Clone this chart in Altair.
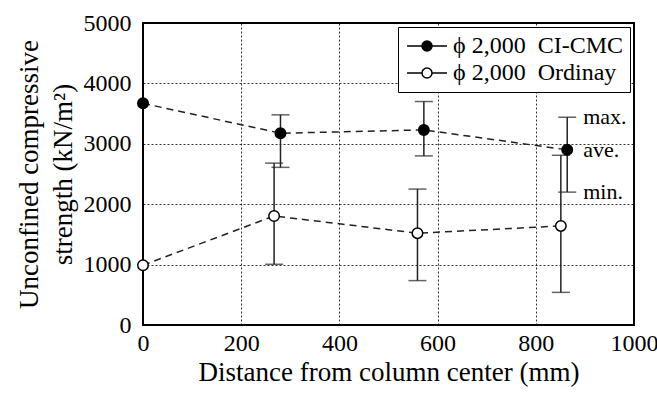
import altair as alt
import pandas as pd

# CI-CMC series
dist_cmc = [0, 280, 572, 864]
ave_cmc = [3670, 3175, 3230, 2900]
max_cmc = [None, 3480, 3700, 3440]
min_cmc = [None, 2610, 2800, 2200]

# Ordinary series
dist_ord = [0, 267, 559, 851]
ave_ord = [990, 1805, 1520, 1640]
max_ord = [None, 2680, 2250, 2810]
min_ord = [None, 1005, 735, 540]

series_names = ["\u03d5 2,000\u00a0\u00a0CI-CMC", "\u03d5 2,000\u00a0\u00a0Ordinay"]
annot_labels = ["max.", "ave.", "min."]

rows = []
for d, a, mx, mn in zip(dist_cmc, ave_cmc, max_cmc, min_cmc):
    rows.append(dict(series=series_names[0], dist=d, ave=a, mx=mx, mn=mn))
for d, a, mx, mn in zip(dist_ord, ave_ord, max_ord, min_ord):
    rows.append(dict(series=series_names[1], dist=d, ave=a, mx=mx, mn=mn))
df = pd.DataFrame(rows)
err = df.dropna()

annot = pd.DataFrame({
    "label": annot_labels,
    "dist": [dist_cmc[-1]] * 3,
    "val": [max_cmc[-1], ave_cmc[-1], min_cmc[-1]],
})

FONT = "Liberation Serif"
INK = "#222222"

xenc = alt.X("dist:Q", scale=alt.Scale(domain=[0, 1000]),
             axis=alt.Axis(values=[0, 200, 400, 600, 800, 1000], format="d",
                           title="Distance from column center (mm)"))
yenc = alt.Y("ave:Q", scale=alt.Scale(domain=[0, 5000]),
             axis=alt.Axis(values=[0, 1000, 2000, 3000, 4000, 5000], format="d",
                           title=["Unconfined compressive", "strength (kN/m\u00b2)"]))

base = alt.Chart(df)

lines = base.mark_line(strokeDash=[7, 5], color=INK, strokeWidth=1.5).encode(
    x=xenc, y=yenc, detail="series:N")

rules = alt.Chart(err).mark_rule(color=INK, strokeWidth=1.5).encode(
    x="dist:Q", y="mn:Q", y2="mx:Q")
cap_hi = alt.Chart(err).mark_tick(color=INK, orient="horizontal", size=18, thickness=1.5).encode(
    x="dist:Q", y="mx:Q")
cap_lo = alt.Chart(err).mark_tick(color=INK, orient="horizontal", size=18, thickness=1.5).encode(
    x="dist:Q", y="mn:Q")

sym_path = ("M-2,0H-0.5M0.5,0H2"
            "M-0.5,0A0.5,0.5,0,1,1,0.5,0A0.5,0.5,0,1,1,-0.5,0")

points = base.mark_circle(size=110, stroke="black", strokeWidth=1.5, opacity=1).encode(
    x="dist:Q", y="ave:Q",
    fill=alt.Fill("series:N",
                  scale=alt.Scale(domain=series_names, range=["black", "white"]),
                  legend=alt.Legend(title=None, orient="top-right", offset=4,
                                    symbolType=sym_path, symbolSize=400,
                                    symbolStrokeColor="black", symbolStrokeWidth=1.5,
                                    symbolOffset=10, labelOffset=14,
                                    padding=7, rowPadding=3,
                                    strokeColor="black", fillColor="white",
                                    labelFont=FONT, labelFontSize=24, labelColor="black",
                                    labelLimit=400)))

text = alt.Chart(annot).mark_text(align="left", baseline="middle", dx=16,
                                  font=FONT, fontSize=22, color="black").encode(
    x="dist:Q", y="val:Q", text="label:N")

chart = alt.layer(lines, rules, cap_hi, cap_lo, points, text).properties(
    width=491, height=302,
    autosize=alt.AutoSizeParams(type="none"),
    padding={"left": 143, "top": 23, "right": 23, "bottom": 72},
).configure(
    font=FONT
).configure_view(
    stroke="black", strokeWidth=2
).configure_axis(
    grid=True, gridDash=[2, 2], gridColor="black", gridWidth=1, gridOpacity=0.8,
    domain=False, ticks=False,
    labelFont=FONT, labelFontSize=24, labelColor="black",
    titleFont=FONT, titleFontSize=27, titleFontWeight="normal", titleColor="black",
).configure_axisX(
    labelPadding=6, titlePadding=4, labelFlush=False
).configure_axisY(
    labelPadding=12, titlePadding=6, titleLineHeight=34
)

chart.save("out.html", embed_options={"renderer": "svg", "actions": False})
